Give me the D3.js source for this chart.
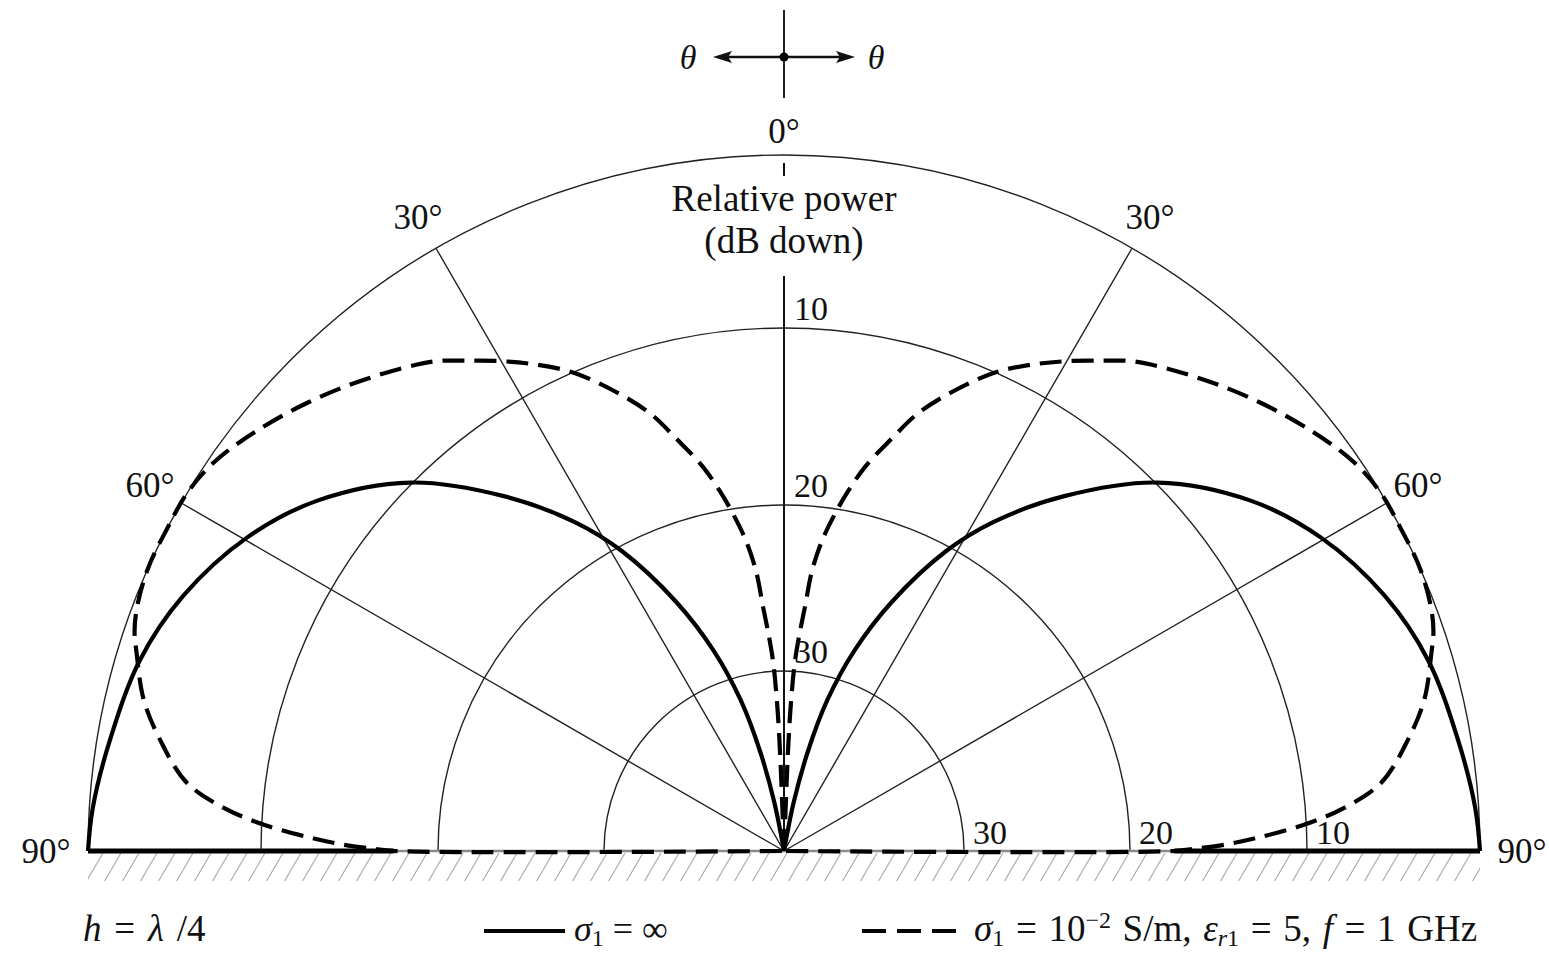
<!DOCTYPE html>
<html><head><meta charset="utf-8">
<script src="https://cdn.jsdelivr.net/npm/d3@7"></script>
<style>
body{margin:0;background:#fff;}
svg{display:block;}
text{font-family:"Liberation Serif","DejaVu Serif",serif;fill:#111;}
</style>
</head><body>
<svg id="c" width="1549" height="954"></svg>
<script>
// ---- data (angle from zenith in degrees, relative power in dB down) ----
const thetaSolid = [0, 11.3, 13.5, 16, 19.3, 23.4, 28.4, 32.5, 38.3, 45.4, 53.1, 59.7, 67, 73.5, 80.6, 86.4, 90];
const dbSolid    = [40, 37.2, 34.3, 31.3, 28.1, 24.5, 20.3, 17.5, 14.0, 9.9, 6.5, 4.3, 2.5, 1.4, 0.75, 0.2, 0];
const thetaDashed = [0, 2.3, 2.7, 3.3, 4.0, 4.9, 5.7, 7.0, 8.5, 10.1, 12.0, 14.6, 17.0, 20.35, 23.8, 27.2, 30.1, 33.1, 35.7, 41.5, 46.8, 51.7, 55.7, 59.05, 62.3, 66.0, 69.3, 71.3, 73.0, 76.7, 79.9, 83.5, 85.7, 87.2, 88.4, 89.2, 89.7, 90, 90];
const dbDashed    = [40, 34.4, 31.7, 29.4, 27.9, 26.1, 23.9, 22.0, 20.4, 18.9, 17.3, 15.5, 13.7, 11.8, 10.0, 8.6, 7.5, 6.4, 5.4, 3.8, 2.4, 1.2, 0.35, 0, 0, 0, 0.26, 0.6, 1.1, 2.2, 3.6, 5.5, 7.9, 10.3, 12.8, 14.7, 16.4, 17.5, 40];
const ringValues = [10, 20, 30];
const ringLabels = ["10", "20", "30"];
const spokeAngles = [30, 60];
const angleLabelAngles = [0, 30, 60, 90];
const angleLabels = ["0°", "30°", "60°", "90°"];
const dbDomain = [0, 10, 20, 30, 40];

// ---- layout ----
const cx = 784, cy = 851, R = 696;
const svg = d3.select("#c");
const rad = d => d * Math.PI / 180;
const r = d3.scaleLinear().domain(dbDomain).range([R, 523, 346, 180, 0]).clamp(true);

// hatched ground
const defs = svg.append("defs");
defs.append("clipPath").attr("id", "gclip").append("rect")
  .attr("x", cx - R).attr("y", cy + 2).attr("width", 2 * R).attr("height", 28);
const hatch = svg.append("g").attr("clip-path", "url(#gclip)");
for (let x = cx - R - 20; x <= cx + R + 20; x += 18) {
  hatch.append("line").attr("x1", x).attr("y1", cy + 31).attr("x2", x + 17).attr("y2", cy + 2)
    .attr("stroke", "#a8a8a8").attr("stroke-width", 1.1);
}

const g = svg.append("g").attr("transform", `translate(${cx},${cy})`);

// rings (outer = 0 dB)
[0, ...ringValues].forEach(v => {
  const p = d3.path();
  p.arc(0, 0, r(v), Math.PI, 2 * Math.PI);
  g.append("path").attr("d", p.toString()).attr("fill", "none")
    .attr("stroke", "#222").attr("stroke-width", 1.4);
});

// spokes
spokeAngles.forEach(a => {
  [-1, 1].forEach(s => {
    g.append("line").attr("x1", 0).attr("y1", 0)
      .attr("x2", s * R * Math.sin(rad(a))).attr("y2", -R * Math.cos(rad(a)))
      .attr("stroke", "#222").attr("stroke-width", 1.4);
  });
});
// 0 deg spoke
g.append("line").attr("x1", 0).attr("y1", 0).attr("x2", 0).attr("y2", -R + 8)
  .attr("stroke", "#111").attr("stroke-width", 2);

// ground line
g.append("line").attr("x1", -R).attr("x2", R).attr("y1", 0).attr("y2", 0)
  .attr("stroke", "#8a8a8a").attr("stroke-width", 2.5);
const groundR = r(dbDashed[dbDashed.length - 2]);
[-1, 1].forEach(s => {
  g.append("line").attr("x1", s * R).attr("x2", s * groundR).attr("y1", 0).attr("y2", 0)
    .attr("stroke", "#000").attr("stroke-width", 5);
});

// knockout + title text
svg.append("rect").attr("x", cx - 125).attr("y", 176).attr("width", 250).attr("height", 100).attr("fill", "#fff");
svg.append("text").attr("x", cx).attr("y", 211).attr("text-anchor", "middle")
  .attr("font-size", 37).text("Relative power");
svg.append("text").attr("x", cx).attr("y", 253).attr("text-anchor", "middle")
  .attr("font-size", 37).text("(dB down)");

// ring labels
ringValues.forEach((v, i) => {
  svg.append("text").attr("x", cx + 10).attr("y", cy - r(v) - 8)
    .attr("font-size", 34).text(ringLabels[i]);
  svg.append("text").attr("x", cx + r(v) + 9).attr("y", cy - 7)
    .attr("font-size", 34).text(ringLabels[i]);
});

// angle labels
angleLabelAngles.forEach((a, i) => {
  const lr = a === 0 ? R + 24 : (a === 90 ? R + 42 : R + 36);
  const sides = a === 0 ? [1] : [-1, 1];
  sides.forEach(s => {
    svg.append("text")
      .attr("x", cx + s * lr * Math.sin(rad(a)))
      .attr("y", cy - lr * Math.cos(rad(a)))
      .attr("text-anchor", "middle").attr("dominant-baseline", "central")
      .attr("font-size", 35).text(angleLabels[i]);
  });
});

// pattern curves
const line = side => d3.lineRadial()
  .angle(d => side * rad(d[0]))
  .radius(d => r(d[1]))
  .curve(d3.curveCatmullRom.alpha(0.5));
const solidPts = thetaSolid.map((t, i) => [t, dbSolid[i]]);
const dashPts = thetaDashed.map((t, i) => [t, dbDashed[i]]);
[-1, 1].forEach(s => {
  g.append("path").attr("d", line(s)(dashPts)).attr("fill", "none")
    .attr("stroke", "#000").attr("stroke-width", 4.2).attr("stroke-dasharray", "22,10");
  g.append("path").attr("d", line(s)(solidPts)).attr("fill", "none")
    .attr("stroke", "#000").attr("stroke-width", 4.2);
});

// compass at top
svg.append("line").attr("x1", cx).attr("x2", cx).attr("y1", 10).attr("y2", 98)
  .attr("stroke", "#222").attr("stroke-width", 2);
svg.append("line").attr("x1", 718).attr("x2", 850).attr("y1", 57).attr("y2", 57)
  .attr("stroke", "#111").attr("stroke-width", 2.5);
svg.append("path").attr("d", "M713,57 L732,51 L728,57 L732,63 Z").attr("fill", "#111");
svg.append("path").attr("d", "M855,57 L836,51 L840,57 L836,63 Z").attr("fill", "#111");
svg.append("circle").attr("cx", cx).attr("cy", 57).attr("r", 4.5).attr("fill", "#000");
svg.append("text").attr("x", 688).attr("y", 69).attr("text-anchor", "middle")
  .attr("font-size", 34).attr("font-style", "italic").text("θ");
svg.append("text").attr("x", 876).attr("y", 69).attr("text-anchor", "middle")
  .attr("font-size", 34).attr("font-style", "italic").text("θ");

// legend
const ly = 941, sfs = 24, lineY = 931;
const t1 = svg.append("text").attr("x", 83).attr("y", ly).attr("font-size", 37).attr("word-spacing", 3.5);
t1.append("tspan").attr("font-style", "italic").text("h");
t1.append("tspan").text(" = ");
t1.append("tspan").attr("font-style", "italic").text("λ");
t1.append("tspan").text(" /4");

svg.append("line").attr("x1", 484).attr("x2", 565).attr("y1", lineY).attr("y2", lineY)
  .attr("stroke", "#000").attr("stroke-width", 4);
const t2 = svg.append("text").attr("x", 574).attr("y", ly).attr("font-size", 36);
t2.append("tspan").attr("font-style", "italic").text("σ");
t2.append("tspan").attr("font-size", sfs).attr("dy", 5).text("1");
t2.append("tspan").attr("dy", -5).text(" = ∞");

svg.append("line").attr("x1", 862).attr("x2", 960).attr("y1", lineY).attr("y2", lineY)
  .attr("stroke", "#000").attr("stroke-width", 4).attr("stroke-dasharray", "24,11");
const t3 = svg.append("text").attr("x", 974).attr("y", ly).attr("font-size", 37).attr("word-spacing", 2.4);
t3.append("tspan").attr("font-style", "italic").text("σ");
t3.append("tspan").attr("font-size", sfs).attr("dy", 5).text("1");
t3.append("tspan").attr("dy", -5).text(" = 10");
t3.append("tspan").attr("font-size", sfs).attr("dy", -13).text("−2");
t3.append("tspan").attr("dy", 13).text(" S/m, ");
t3.append("tspan").attr("font-style", "italic").text("ε");
t3.append("tspan").attr("font-size", sfs).attr("dy", 5).attr("font-style", "italic").text("r");
t3.append("tspan").attr("font-size", sfs).text("1");
t3.append("tspan").attr("dy", -5).text(" = 5, ");
t3.append("tspan").attr("font-style", "italic").text("f");
t3.append("tspan").text(" = 1 GHz");
</script>
</body></html>
